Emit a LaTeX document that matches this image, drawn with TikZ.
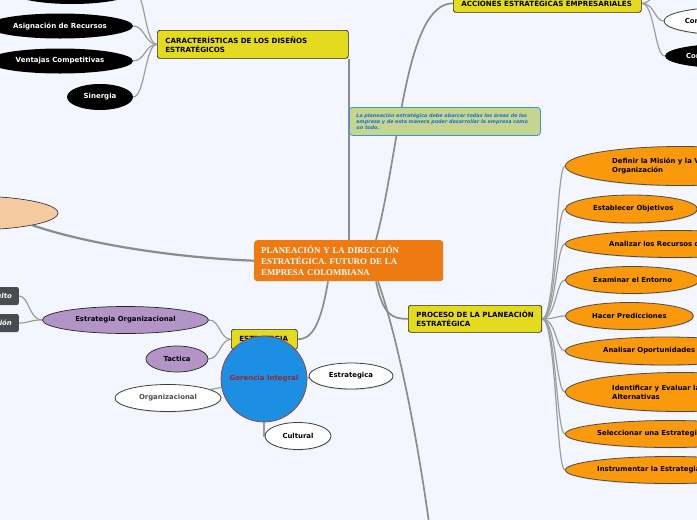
\documentclass[tikz,border=0pt]{standalone}
\usepackage{fontspec}
\setsansfont{DejaVu Sans}
\newfontfamily\titulofont{Liberation Serif}
\usetikzlibrary{positioning,shapes.geometric,calc,backgrounds,shadows}

\definecolor{fondo}{HTML}{F3F6FE}
\definecolor{naranjac}{HTML}{EE7A12}
\definecolor{amarillo}{HTML}{E4DB1E}
\definecolor{naranja}{HTML}{FA990B}
\definecolor{lila}{HTML}{B394C6}
\definecolor{melocoton}{HTML}{F6CAA0}
\definecolor{azulg}{HTML}{1C8FE2}
\definecolor{rojog}{HTML}{A03A3A}
\definecolor{rojotxt}{HTML}{8E2A3A}
\definecolor{verde}{HTML}{C4D590}
\definecolor{azulborde}{HTML}{3C92E8}
\definecolor{azultxt}{HTML}{1F6ED4}
\definecolor{grisbox}{HTML}{494C4F}
\definecolor{linea}{HTML}{8C8C8C}

\begin{document}
\begin{tikzpicture}[x=1pt, y=-1pt,
    rama/.style={draw=linea, line width=1.7pt},
    subrama/.style={draw=linea!85, line width=1.2pt},
    tema/.style={draw=black!85, fill=amarillo, rounded corners=2.5pt, line width=0.7pt,
        anchor=north west, align=left, inner xsep=8pt, inner ysep=0pt,
        font=\sffamily\bfseries\fontsize{7.1}{9}\selectfont},
    negro/.style={ellipse, fill=black, text=white, inner sep=0pt,
        font=\sffamily\bfseries\fontsize{7}{8}\selectfont},
    morado/.style={ellipse, draw=black!85, fill=lila, line width=0.7pt, inner sep=0pt,
        font=\sffamily\bfseries\fontsize{6.9}{8}\selectfont},
    blanco/.style={ellipse, draw=black!75, fill=white, line width=0.8pt, inner sep=0pt,
        font=\sffamily\bfseries\fontsize{6.9}{8}\selectfont,
        drop shadow={opacity=0.25, shadow xshift=0.4pt, shadow yshift=-1pt}},
    paso/.style={ellipse, draw=black!70, fill=naranja, line width=0.8pt, anchor=west, inner sep=0pt,
        drop shadow={opacity=0.25, shadow xshift=0.4pt, shadow yshift=-1pt}},
    pasotxt/.style={align=left, inner sep=0pt, font=\sffamily\bfseries\fontsize{6.9}{9}\selectfont},
    gris/.style={fill=grisbox, rounded corners=2pt, text=white, anchor=east, minimum height=18pt,
        text width=50pt, align=right, inner xsep=7pt,
        font=\sffamily\bfseries\itshape\fontsize{6.9}{8}\selectfont}]

    \useasboundingbox (0,0) rectangle (697,520);

    % nodo central
    \node[anchor=north west, fill=naranjac, rounded corners=3pt, text=white, minimum width=189pt,
        minimum height=41pt, text width=175pt, inner xsep=7pt, align=left,
        font=\titulofont\bfseries\fontsize{8.8}{11}\selectfont] (cen) at (254,240)
        {PLANEACIÓN Y LA DIRECCIÓN\\ESTRATÉGICA. FUTURO DE LA\\EMPRESA COLOMBIANA};

    % temas principales
    \node[tema, minimum height=28pt, text width=175pt] (car) at (157,30)
        {CARACTERÍSTICAS DE LOS DISEÑOS\\ESTRATÉGICOS};
    \node[tema, minimum height=18pt, text width=172pt] (acc) at (453,-6)
        {ACCIONES ESTRATÉGICAS EMPRESARIALES};
    \node[tema, minimum height=27pt, minimum width=133pt] (pro) at (408,305)
        {PROCESO DE LA PLANEACIÓN\\ESTRATÉGICA};
    \node[tema, minimum height=20pt, text width=50pt, inner xsep=8pt] (est) at (231,329)
        {ESTRATEGIA};
    \node[anchor=north west, fill=verde, draw=azulborde, rounded corners=3pt, line width=0.8pt,
        minimum height=28pt, text width=177pt, inner xsep=7pt, inner ysep=0pt, align=left,
        text=azultxt, font=\sffamily\bfseries\itshape\fontsize{4.9}{6}\selectfont] (nota) at (349,107)
        {La planeación estratégica debe abarcar todas las áreas de las empresa y de esta manera poder desarrollar la empresa como un todo.};
    \node[ellipse, draw=black!85, fill=melocoton, line width=0.6pt, minimum width=176pt,
        minimum height=34pt] (pe) at (-30,213) {};

    % caracteristicas
    \node[negro, minimum width=124pt, minimum height=26pt] (c0) at (72,-9) {};
    \node[negro, minimum width=146pt, minimum height=25pt] (c1) at (60,26) {Asignación de Recursos};
    \node[negro, minimum width=146pt, minimum height=25pt] (c2) at (60,61) {Ventajas Competitivas};
    \node[negro, minimum width=66pt, minimum height=26pt] (c3) at (100,97) {Sinergia};

    % acciones (cortadas a la der.)
    \node[blanco, minimum width=120pt, minimum height=27pt] (a1) at (724,21) {};
    \node[negro, minimum width=120pt, minimum height=24pt] (a2) at (725,56) {};
    \node[pasotxt, right=21pt of a1.west] {Con};
    \node[pasotxt, text=white, right=21pt of a2.west] {Con};
    \coordinate (a0) at (668,-16);

    % estrategia
    \node[morado, minimum width=166pt, minimum height=27pt] (eo) at (125.5,320) {Estrategia Organizacional};
    \node[morado, minimum width=62pt, minimum height=26pt] (ta) at (177,359) {Tactica};
    \node[gris] (g1) at (19,296) {ulto};
    \node[gris] (g2) at (19,323) {ión};

    % gerencia integral
    \node[circle, fill=azulg, draw=rojog, line width=0.7pt, minimum size=86pt, text=rojotxt,
        font=\sffamily\bfseries\fontsize{7}{8}\selectfont] (gi) at (264,379) {Gerencia Integral};
    \node[blanco, minimum width=84pt, minimum height=26pt] (es) at (351,376) {Estrategica};
    \node[blanco, minimum width=106pt, minimum height=27pt, text=black!70] (or) at (168,398) {Organizacional};
    \node[blanco, minimum width=66pt, minimum height=27pt] (cu) at (298,436) {Cultural};

    % proceso
    \foreach \n/\y/\w/\h/\dx/\t in {1/166/230/39/47/{Definir la Misión y la Visión de la\\Organización},
            2/209/132/28/28/{Establecer Objetivos}, 3/244/220/27/44/{Analizar los Recursos de la},
            4/280/134/27/28/{Examinar el Entorno}, 5/316/128/27/27/{Hacer Predicciones},
            6/351/200/28/38/{Analisar Oportunidades}, 7/392/230/39/47/{Identificar y Evaluar las\\Alternativas},
            8/434/210/27/32/{Seleccionar una Estrategia}, 9/470/210/27/32/{Instrumentar la Estrategia}}
    {
        \node[paso, minimum width=\w pt, minimum height=\h pt] (p\n) at (565,\y) {};
        \node[pasotxt, right=\dx pt of p\n.west] {\t};
    }

    \begin{scope}[on background layer]
        \fill[fondo] (0,0) rectangle (697,520);
        \coordinate (abajo) at (430,530);
        % ramas del centro
        \draw[rama] (cen.north -| car.south east) -- (car.south east);
        \draw[rama] ($(cen.north west)+(122,0)$) .. controls (400,150) and (405,3) .. (acc.west);
        \draw[rama, line width=2.2pt] (cen.west) .. controls (180,258) and (90,245) .. (pe.south east);
        \draw[rama] ($(cen.south west)+(74,0)$) .. controls (320,330) and (310,339) .. (est.east);
        \draw[rama] ($(cen.south west)+(122,0)$) .. controls (383,315) and (392,319) .. (pro.west);
        \draw[rama] ($(cen.south west)+(124,0)$) .. controls (395,330) and (415,420) .. (abajo);
        % subramas
        \coordinate (cj) at ($(car.west)+(-12,0)$);
        \foreach \c in {c0,c1,c2,c3}
            \draw[subrama] (car.west) .. controls (cj) and (cj |- \c.east) .. (\c.east);
        \coordinate (aj) at ($(acc.east)+(13,0)$);
        \foreach \c in {a1,a2}
            \draw[subrama] (acc.east) .. controls (aj) and (aj |- \c.west) .. (\c.west);
        \draw[subrama] (acc.east) .. controls (aj) and (aj |- a0) .. (a0);
        \coordinate (pj) at ($(pro.east)+(14,0)$);
        \foreach \n in {1,...,9}
            \draw[subrama] (pro.east) .. controls (pj) and (pj |- p\n.west) .. (p\n.west);
        \coordinate (ej) at ($(est.west)+(-11,0)$);
        \foreach \c in {eo,ta}
            \draw[subrama] (est.west) .. controls (ej) and (ej |- \c.east) .. (\c.east);
        \coordinate (oj) at ($(eo.west)+(-13,0)$);
        \foreach \c in {g1,g2}
            \draw[subrama] (eo.west) .. controls (oj) and (oj |- \c.east) .. (\c.east);
        \draw[subrama] (gi) -- (es);
        \draw[subrama] (gi) -- (or);
        \draw[subrama] (gi.south) |- (cu.west);
    \end{scope}
\end{tikzpicture}
\end{document}
